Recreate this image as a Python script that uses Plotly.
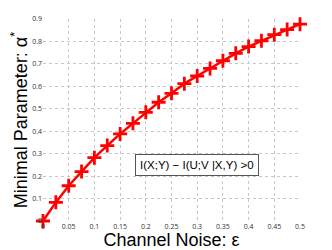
import plotly.graph_objects as go

# channel noise values and minimal parameter
noise = [0, 0.025, 0.05, 0.075, 0.1, 0.125, 0.15, 0.175, 0.2, 0.225, 0.25,
         0.275, 0.3, 0.325, 0.35, 0.375, 0.4, 0.425, 0.45, 0.475, 0.5]
alpha_min = [0, 0.083, 0.157, 0.22, 0.282, 0.336, 0.388, 0.435, 0.484, 0.529, 0.569,
             0.612, 0.646, 0.68, 0.714, 0.747, 0.777, 0.803, 0.83, 0.853, 0.877]

x_ticks = [0, 0.05, 0.1, 0.15, 0.2, 0.25, 0.3, 0.35, 0.4, 0.45, 0.5]
y_ticks = [0, 0.1, 0.2, 0.3, 0.4, 0.5, 0.6, 0.7, 0.8, 0.9]

fig = go.Figure()

fig.add_trace(go.Scatter(x=noise, y=alpha_min, mode='lines+markers',
                         line=dict(color='red', width=2.5),
                         marker=dict(symbol='cross-thin', size=10,
                                     line=dict(color='red', width=2.8)),
                         cliponaxis=False))

fig.add_annotation(x=0.299, y=0.25, xref='x', yref='y',
                   text='I(X;Y) \u2212 I(U;V |X,Y) >0', showarrow=False,
                   font=dict(family='Liberation Sans', size=11.5, color='black'),
                   bordercolor='#555555', borderwidth=1, borderpad=4,
                   bgcolor='white')

fig.update_xaxes(range=[0, 0.5], tickvals=x_ticks,
                 ticktext=[('%g' % v) for v in x_ticks],
                 showgrid=True, gridcolor='#c8c8c8', griddash='dot', gridwidth=1,
                 zeroline=False, showline=False, ticks='', automargin=False,
                 tickfont=dict(size=7, color='#333333'),
                 title=dict(text='Channel Noise: \u03b5', standoff=2,
                            font=dict(family='Liberation Sans', size=18, color='black')))
fig.update_yaxes(range=[0, 0.9], tickvals=y_ticks,
                 ticktext=[('%g' % v) for v in y_ticks],
                 showgrid=True, gridcolor='#c8c8c8', griddash='dot', gridwidth=1,
                 zeroline=False, showline=False, ticks='', automargin=False,
                 tickfont=dict(size=7, color='#333333'),
                 title=dict(text='Minimal Parameter: \u03b1<sup>*</sup>', standoff=3,
                            font=dict(family='Liberation Sans', size=18, color='black')))

# the page body adds an 8px offset, so the figure is 8px smaller on each side
fig.update_layout(width=324, height=242, showlegend=False,
                  margin=dict(l=35, r=32, t=11, b=29),
                  plot_bgcolor='white', paper_bgcolor='white')

fig.write_html("out.html")
